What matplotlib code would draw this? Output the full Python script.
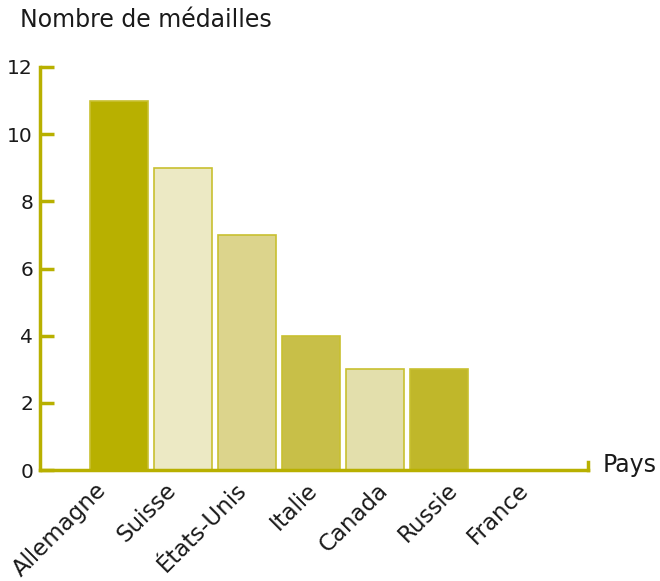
import matplotlib.pyplot as plt
import numpy as np

# Données
pays = ['Allemagne', 'Suisse', 'États-Unis', 'Italie', 'Canada', 'Russie', 'France']
medailles = [11, 9, 7, 4, 3, 3, 0]
couleurs = ['#b8b000', '#ece9c4', '#dcd48c', '#c8bf48', '#e3dfac', '#c0b72a', '#c0b72a']
yticks = [0, 2, 4, 6, 8, 10, 12]

axe_col = '#b8b000'
texte = '#1a1a1a'
fs = 16.5
plt.rcParams['font.family'] = ['DejaVu Sans']

fig = plt.figure(figsize=(6.6, 5.81), dpi=100)
ax = fig.add_axes([0.0606, 0.191, 0.8303, 0.6937])

x = np.arange(len(pays))
ax.bar(x, medailles, width=0.906, color=couleurs, edgecolor='#c8c030', linewidth=1.2, zorder=2)

ax.set_xlim(-1.23, 7.33)
ax.set_ylim(0, 12)
ax.set_yticks(yticks)
ax.tick_params(axis='y', direction='in', length=10, width=2.5, color=axe_col,
               labelsize=14.5, pad=5, labelcolor=texte)

ax.spines['top'].set_visible(False)
for s in ['left', 'bottom', 'right']:
    ax.spines[s].set_color(axe_col)
    ax.spines[s].set_linewidth(2.5)
ax.spines['right'].set_bounds(0, 0.25)

# étiquettes de pays légèrement décalées comme sur l'original
pos_lab = 1.1 * x - 0.38
ax.set_xticks(pos_lab)
ax.set_xticklabels(pays, rotation=45, ha='right', va='top', rotation_mode='anchor', fontsize=fs)
ax.tick_params(axis='x', length=0, pad=6, labelcolor=texte)

fig.text(20 / 660, 1 - 20 / 581, 'Nombre de médailles', fontsize=17, ha='left', va='center', color=texte)
fig.text(603 / 660, 1 - 465 / 581, 'Pays', fontsize=17, ha='left', va='center', color=texte)

fig.savefig('out.png', dpi=100)
